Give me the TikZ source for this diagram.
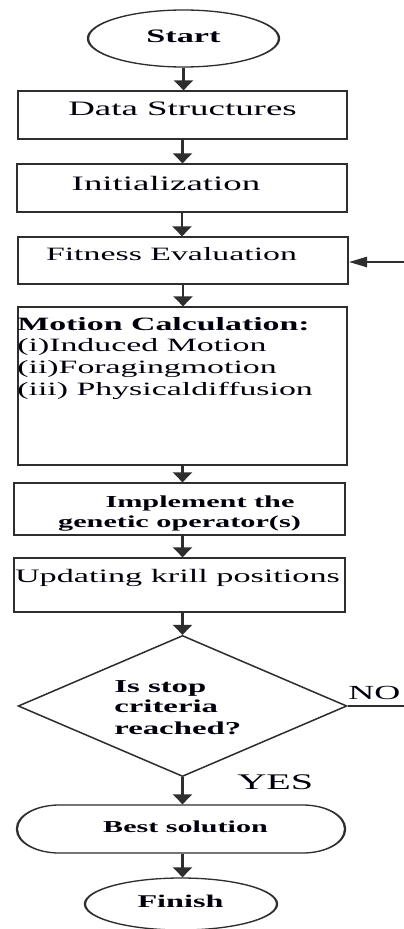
\documentclass[tikz,border=0pt]{standalone}
\usepackage{fontspec}
\setmainfont{Liberation Serif}
\usetikzlibrary{arrows.meta,shapes.geometric}
\newcommand{\fs}[1]{\fontsize{#1}{#1}\selectfont}
\tikzset{
  ln/.style={draw=black!82, line width=1.3pt},
  bx/.style 2 args={ln, rectangle, inner sep=0pt, minimum width=#1, minimum height=#2},
  ov/.style 2 args={ln, ellipse, inner sep=0pt, minimum width=#1, minimum height=#2},
  arr/.style={ln, -{Triangle[width=10.5pt,length=10pt]}},
  txt/.style={inner sep=0pt, text=black!95!blue},
}
\begin{document}
\begin{tikzpicture}[x=1pt,y=-1pt]
\fill[white] (0,0) rectangle (404,929);
\useasboundingbox (0,0) rectangle (404,929);
\begin{scope}[x=0.55556pt, y=-1pt, transform canvas={xscale=1.8}]
  % shapes
  \node[ov={106.1pt}{57pt}] (start) at (183.5,38.5) {};
  \node[bx={182.8pt}{48pt}] (ds) at (182.5,115) {};
  \node[bx={183.3pt}{48pt}] (init) at (182,188) {};
  \node[bx={183.3pt}{47pt}] (fit) at (183,260.5) {};
  \node[bx={182.8pt}{158pt}] (mot) at (182.5,386) {};
  \node[bx={183.9pt}{52pt}] (impl) at (179.5,509) {};
  \node[bx={183.9pt}{54pt}] (upd) at (179.5,585) {};
  \node[ln, diamond, inner sep=0pt, minimum width=182.8pt, minimum height=141pt] (dia) at (182.5,706) {};
  \node[ln, rectangle, rounded corners=23.5pt, inner sep=0pt, minimum width=182.2pt, minimum height=48pt] (best) at (181,829) {};
  \node[ov={106.7pt}{52pt}] (fin) at (181,904) {};
  \coordinate (fbR) at (404,262);
  \coordinate (noR) at (404,706);
  % texts
  \node[txt, anchor=base] (startT) at (183.5,42) {\fs{19}\bfseries Start};
  \node[txt, anchor=base] (dsT) at (182.5,115) {\fs{20.5}Data Structures};
  \node[txt, anchor=base] (initT) at (166,190) {\fs{20.5}Initialization};
  \node[txt, anchor=base] (fitT) at (171.5,260) {\fs{18.8}Fitness Evaluation};
  \node[txt, anchor=base west] (m1) at (17,330) {\fs{18.8}\bfseries Motion Calculation:};
  \node[txt, anchor=base west] (m2) at (17,351) {\fs{18.8}(i)Induced Motion};
  \node[txt, anchor=base west] (m3) at (17,373) {\fs{18.8}(ii)Foragingmotion};
  \node[txt, anchor=base west] (m4) at (17,395.5) {\fs{18.8}(iii) Physicaldiffusion};
  \node[txt, anchor=base] (i1) at (200,507) {\fs{16.8}\bfseries Implement the};
  \node[txt, anchor=base] (i2) at (179.5,527) {\fs{16.8}\bfseries genetic operator(s)};
  \node[txt, anchor=base] (updT) at (177.5,582) {\fs{19}Updating krill positions};
  \node[txt, anchor=base west] (d1) at (114,692) {\fs{18.2}\bfseries Is stop};
  \node[txt, anchor=base west] (d2) at (114,712) {\fs{18.2}\bfseries criteria};
  \node[txt, anchor=base west] (d3) at (114,734) {\fs{18.2}\bfseries reached?};
  \node[txt, anchor=base west] (yes) at (237,789) {\fs{22.3}YES};
  \node[txt, anchor=base west] (no) at (348,699) {\fs{20}NO};
  \node[txt, anchor=base] (bestT) at (185.5,832) {\fs{16.7}\bfseries Best solution};
  \node[txt, anchor=base] (finT) at (180.5,907) {\fs{17.9}\bfseries Finish};
  % connectors
  \draw[arr] (start.south) -- (start.south |- ds.north);
  \draw[arr] (ds.south) -- (ds.south |- init.north);
  \draw[arr] (init.south) -- (init.south |- fit.north);
  \draw[arr] (fit.south) -- (fit.south |- mot.north);
  \draw[arr] (mot.south) -- (mot.south |- impl.north);
  \draw[arr] (mot.south |- impl.south) -- (mot.south |- upd.north);
  \draw[arr] (mot.south |- upd.south) -- (dia.north);
  \draw[arr] (dia.south) -- (dia.south |- best.north);
  \draw[arr] (dia.south |- best.south) -- (dia.south |- fin.north);
  \draw[arr] (fbR) -- (fbR -| fit.east);
  \draw[ln] (dia.east) -- (noR);
\end{scope}
\end{tikzpicture}
\end{document}
